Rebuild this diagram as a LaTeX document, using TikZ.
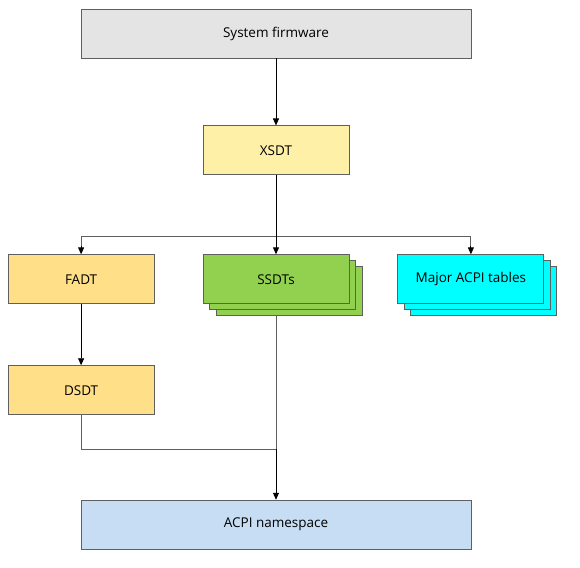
\documentclass[tikz,border=0pt]{standalone}
\usepackage{fontspec}
\setmainfont{Open Sans}
\usepackage{tikz}
\usetikzlibrary{positioning,arrows.meta,shadows}

\definecolor{edgegray}{HTML}{5F5F5F}
\definecolor{fwgray}{HTML}{E4E4E4}
\definecolor{xsdtyellow}{HTML}{FFF0A8}
\definecolor{fadtyellow}{HTML}{FFDF88}
\definecolor{ssdtgreen}{HTML}{92D050}
\definecolor{tblcyan}{HTML}{00FFFF}
\definecolor{nsblue}{HTML}{C6DDF4}

\begin{document}
\begin{tikzpicture}[x=1pt,y=-1pt,node distance=48pt,>={Triangle[length=7pt,width=6pt]},
  font=\fontsize{13.5}{15}\selectfont]

  \useasboundingbox (0,0) rectangle (580,567);

  \tikzstyle{tbl}=[rectangle,draw=edgegray,line width=0.9pt,minimum width=146pt,minimum height=49pt,align=center]
  \tikzstyle{wide}=[tbl,minimum width=390pt]
  \tikzstyle{stack}=[double copy shadow={shadow xshift=6.5pt,shadow yshift=-6pt,draw=edgegray,line width=0.9pt,fill=#1},fill=#1]
  \tikzstyle{link}=[draw=edgegray,line width=0.9pt]
  \tikzstyle{arr}=[->,draw=black,line width=0.9pt]

  % tables
  \node[wide,fill=fwgray] (fw) at (276,33.5) {System firmware};
  \node[tbl,fill=xsdtyellow] (xsdt) [below=67pt of fw] {XSDT};
  \node[tbl,stack=ssdtgreen] (ssdt) [below=79pt of xsdt] {SSDTs};
  \node[tbl,fill=fadtyellow] (fadt) [left=of ssdt] {FADT};
  \node[tbl,stack=tblcyan] (major) [right=of ssdt] {Major ACPI tables};
  \node[tbl,fill=fadtyellow] (dsdt) [below=61pt of fadt] {DSDT};
  \node[wide,fill=nsblue] (ns) [below=195.5pt of ssdt] {ACPI namespace};

  % branch and join points
  \coordinate (split) at ([yshift=18pt]ssdt.north);
  \coordinate (join) at (ssdt |- {0,449});
  \coordinate (ssdtbase) at ([yshift=-12pt]ssdt.south);

  % connectors
  \draw[arr] (fw) -- (xsdt);
  \draw[arr,-] (xsdt) -- (split);
  \draw[link] (split) -| ([yshift=8pt]fadt.north);
  \draw[link] (split) -| ([yshift=8pt]major.north);
  \draw[arr] ([yshift=8pt]fadt.north) -- (fadt);
  \draw[arr] ([yshift=8pt]major.north) -- (major);
  \draw[arr] (split) -- (ssdt);
  \draw[arr] (fadt) -- (dsdt);
  \draw[link] (dsdt) |- (join);
  \draw[link] (ssdtbase) -- (join);
  \draw[arr] (join) -- (ns);

\end{tikzpicture}
\end{document}
